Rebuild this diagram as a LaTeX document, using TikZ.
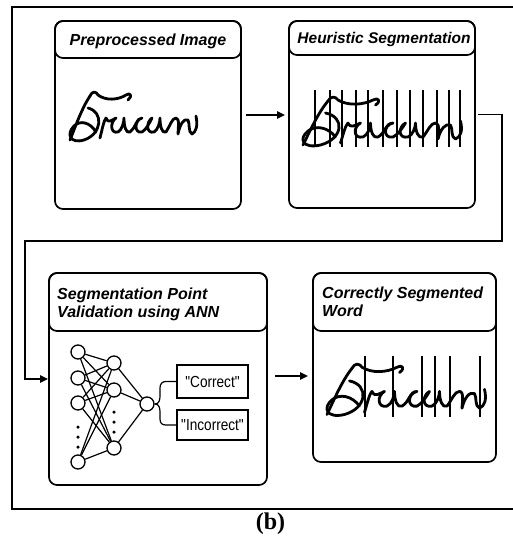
\documentclass[tikz,border=0pt]{standalone}
\usepackage{fontspec}
\setmainfont{Liberation Serif}
\newfontfamily\hfont{Liberation Sans}
\newfontfamily\nfont{Liberation Sans}[FakeStretch=0.85]
\usetikzlibrary{arrows.meta}
\begin{document}
\begin{tikzpicture}[x=1pt,y=-1pt,
  box/.style={draw, line width=1.7pt, rounded corners=8pt, inner sep=0pt, outer sep=0pt},
  hdr/.style={inner sep=0pt, font=\hfont\bfseries\itshape\fontsize{16}{18}\selectfont},
  neuron/.style={draw, circle, line width=1.3pt, minimum size=14pt, inner sep=0pt},
  dotn/.style={fill, circle, minimum size=3.5pt, inner sep=0pt},
  edge/.style={line width=1.2pt},
  outbox/.style={draw, line width=1.4pt, inner sep=0pt, font=\nfont\fontsize{16}{18}\selectfont},
  arr/.style={-{Triangle[length=8pt,width=7.5pt]}, line width=1.5pt},
  hand/.style={line width=2.8pt, line cap=round, line join=round},
  seg/.style={line width=1.6pt},
  word/.pic={
    \draw[hand] (4,50) .. controls (10,35) and (16,18) .. (24,6);
    \draw[hand] (24,6) .. controls (26,1) and (30,1) .. (32,5) .. controls (40,11) and (52,10) .. (60,5) .. controls (64,2) and (67,6) .. (62,10);
    \draw[hand] (22,18) .. controls (38,22) and (36,44) .. (18,50) .. controls (4,54) and (0,44) .. (8,36) .. controls (14,30) and (24,32) .. (30,42);
    \draw[hand] (34,48) .. controls (36,40) and (38,30) .. (40,28) .. controls (42,34) and (46,30) .. (50,28)
      .. controls (44,32) and (44,44) .. (52,42) .. controls (56,40) and (58,32) .. (58,28) .. controls (58,36) and (60,44) .. (64,42)
      .. controls (70,38) and (70,28) .. (76,28) .. controls (68,30) and (68,44) .. (76,42)
      .. controls (80,40) and (84,32) .. (86,28) .. controls (80,32) and (80,44) .. (88,42) .. controls (92,40) and (94,32) .. (94,28) .. controls (94,36) and (96,44) .. (100,42)
      .. controls (104,36) and (106,28) .. (110,28) .. controls (114,28) and (112,40) .. (112,44) .. controls (114,34) and (118,28) .. (122,30) .. controls (124,34) and (122,42) .. (126,44) .. controls (130,42) and (132,36) .. (130,26);
  }]
\useasboundingbox (0,0) rectangle (513,539);

% outer frame
\draw[line width=1.6pt] (513,7) -- (12,7) -- (12,509) -- (513,509);

% boxes
\node[box, minimum width=186pt, minimum height=188pt] (b1) at (148,115) {};
\node[box, minimum width=186pt, minimum height=37pt, anchor=north] (hb1) at (b1.north) {};
\node[box, minimum width=186pt, minimum height=187pt] (b2) at (382,114.5) {};
\node[box, minimum width=186pt, minimum height=34pt, anchor=north] (hb2) at (b2.north) {};
\node[box, minimum width=218pt, minimum height=212pt] (b3) at (158,379) {};
\node[box, minimum width=218pt, minimum height=58pt, anchor=north] (hb3) at (b3.north) {};
\node[box, minimum width=183pt, minimum height=189pt] (b4) at (404.5,367.5) {};
\node[box, minimum width=183pt, minimum height=58pt, anchor=north] (hb4) at (b4.north) {};

% headers
\node[hdr, anchor=base] (t1) at (148,45) {Preprocessed Image};
\node[hdr, anchor=base] (t2) at (384,43) {\fontsize{15.5}{17}\selectfont Heuristic Segmentation};
\node[hdr, anchor=base west] (t3a) at (57,299) {Segmentation Point};
\node[hdr, anchor=base west] (t3b) at (57,317) {Validation using ANN};
\node[hdr, anchor=base west] (t4a) at (322,298) {Correctly Segmented};
\node[hdr, anchor=base west] (t4b) at (322,316) {Word};

% handwriting
\pic at (66,90) {word};
\pic[xscale=1.25, yscale=1.0] at (298,95) {word};
\pic[xscale=1.25, yscale=1.05] at (322,362) {word};
\foreach \x in {315,330,342,356,368,383,397,410,423,437,449,460}
  \draw[seg] (\x,90) -- (\x,147);
\foreach \x in {365,393,422,435,450,480}
  \draw[seg] (\x,356) -- (\x,417);

% neural network
\node[neuron] (i1) at (78,352) {};
\node[neuron] (i2) at (78,378) {};
\node[neuron] (i3) at (78,403) {};
\node[neuron] (i4) at (78,462) {};
\node[neuron] (hA) at (114,363) {};
\node[neuron] (hB) at (114,390) {};
\node[neuron] (hC) at (114,448) {};
\node[neuron] (o) at (147,404) {};
\node[dotn] (d1) at (78,427) {};
\node[dotn] (d2) at (78,437) {};
\node[dotn] (d3) at (78,447) {};
\node[dotn] (d4) at (114,412) {};
\node[dotn] (d5) at (114,422) {};
\node[dotn] (d6) at (114,432) {};
\foreach \i in {i1,i2,i3,i4}
  \foreach \h in {hA,hB,hC}
    \draw[edge] (\i) -- (\h);
\foreach \h in {hA,hB,hC}
  \draw[edge] (\h) -- (o);

% outputs
\node[outbox, minimum width=71pt, minimum height=33pt] (cor) at (212.5,381.5) {"Correct"};
\node[outbox, minimum width=71pt, minimum height=30pt] (inc) at (212.5,425) {"Incorrect"};
\coordinate (br) at (155,404);
\draw[edge] (o.east) -- (br) .. controls (159,404) and (160,400) .. (160,396) -- (160,388) .. controls (160,384) and (162,381.5) .. (166,381.5) -- (cor.west);
\draw[edge] (br) .. controls (159,404) and (160,408) .. (160,412) -- (160,419) .. controls (160,423) and (162,425) .. (166,425) -- (inc.west);

% connectors
\draw[arr, shorten <=5pt, shorten >=4pt] (b1.east) -- (b1.east -| b2.west);
\coordinate (c1) at (502,241);
\coordinate (c2) at (25,241);
\draw[arr, shorten >=1pt] ([xshift=3pt]b2.east) -| (c1) -- (c2) |- (b3.west);
\coordinate (a3) at ([yshift=3pt]b3.east);
\draw[arr, shorten <=8pt, shorten >=5pt] (a3) -- (a3 -| b4.west);

% caption
\node[inner sep=0pt, anchor=base, font=\bfseries\fontsize{24}{26}\selectfont] (cap) at (270.5,529) {(b)};
\end{tikzpicture}
\end{document}
